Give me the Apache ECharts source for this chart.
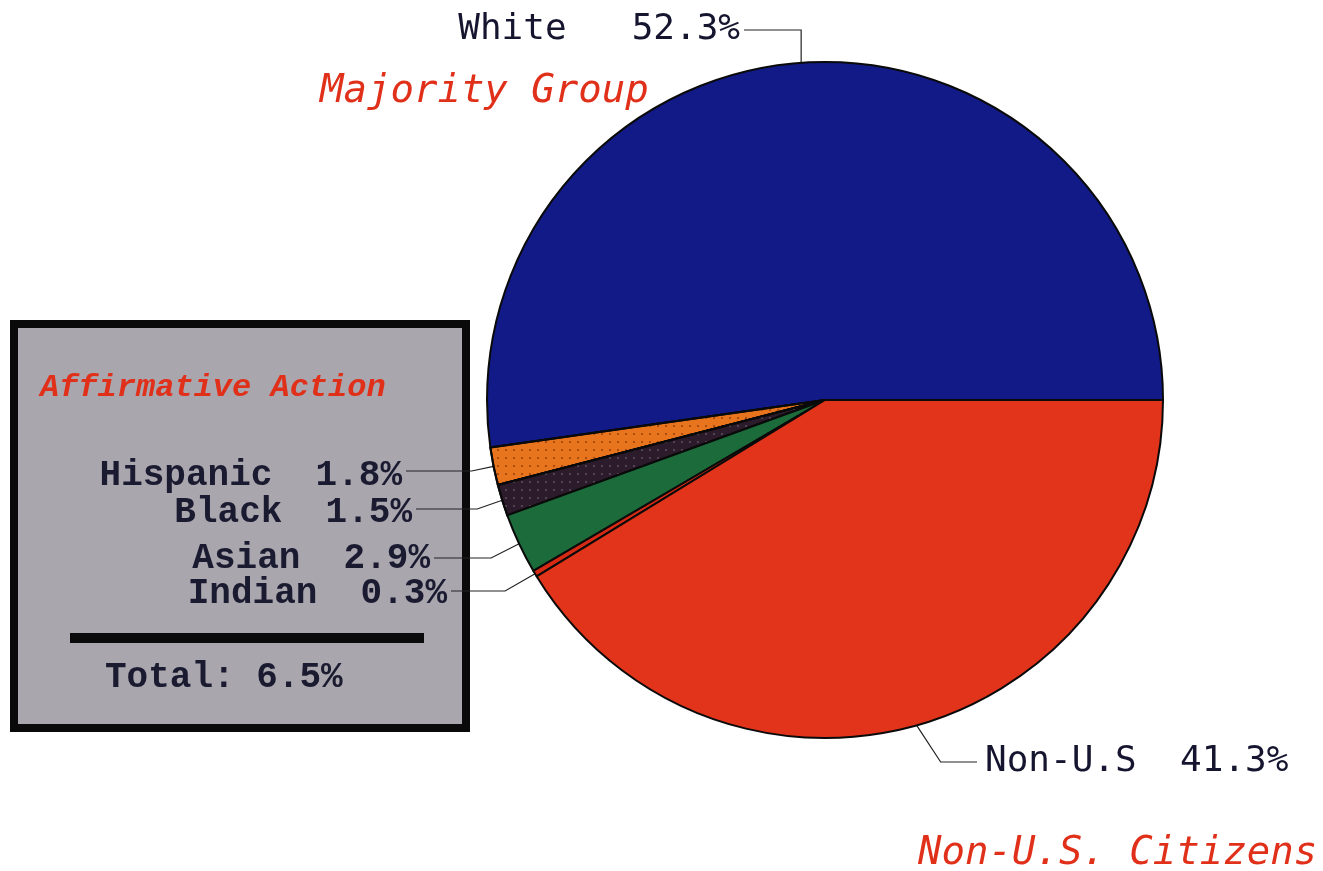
<!DOCTYPE html>
<html><head><meta charset="utf-8">
<script src="https://cdn.jsdelivr.net/npm/echarts@6/dist/echarts.min.js"></script>
<style>html,body{margin:0;padding:0;background:#fff}#c{width:1323px;height:871px}</style>
</head><body><div id="c"></div>
<script>
const categories = ['White', 'Hispanic', 'Black', 'Asian', 'Indian', 'Non-U.S'];
const values = [52.3, 1.8, 1.5, 2.9, 0.3, 41.3];
const labelTexts = ['White   52.3%', 'Hispanic  1.8%', 'Black  1.5%', 'Asian  2.9%', 'Indian  0.3%', 'Non-U.S  41.3%'];
const sliceColors = ['#111a86', '#e8741e', '#2b1b2b', '#1c6b3a', '#d62a14', '#e2341b'];
const totalText = 'Total: 6.5%';

// label placement (style, not data)
const labelPlace = [
  {x: 740, y: 30, align: 'right', lineY: 30, elbow: 'vertical'},
  {x: 402, y: 476, align: 'right', lineY: 471, elbow: -22},
  {x: 412, y: 513, align: 'right', lineY: 509, elbow: -25},
  {x: 430, y: 559, align: 'right', lineY: 558, elbow: -28},
  {x: 447, y: 594, align: 'right', lineY: 591, elbow: -30},
  {x: 985, y: 762, align: 'left', lineY: 762, elbow: 24}
];
const boxed = [false, true, true, true, true, false];

const chart = echarts.init(document.getElementById('c'), null, {renderer: 'canvas'});
const data = categories.map((n, i) => ({
  name: n, value: values[i],
  itemStyle: Object.assign({color: sliceColors[i]},
    i === 1 ? {decal: {symbol: 'circle', symbolSize: 0.5, dashArrayX: 4, dashArrayY: 4, color: 'rgba(90,30,0,0.6)'}} :
    i === 2 ? {decal: {symbol: 'circle', symbolSize: 0.4, dashArrayX: 4, dashArrayY: 4, color: 'rgba(200,180,200,0.6)'}} : {}),
  label: boxed[i] ? {fontFamily: 'Liberation Mono', fontWeight: 'bold', fontSize: 36, color: '#1a1a30'}
                  : {fontFamily: 'DejaVu Sans Mono', fontSize: 36, color: '#151530'}
}));

function layoutLabel(p) {
  const L = labelPlace[p.dataIndex];
  const out = {x: L.x, y: L.y, align: L.align, verticalAlign: 'middle'};
  const pts = p.labelLinePoints;
  if (pts && pts.length) {
    const a = pts[0];
    const end = L.align === 'right' ? L.x + 4 : L.x - 8;
    if (L.elbow === 'vertical') {
      out.labelLinePoints = [[a[0], a[1]], [a[0], L.lineY], [end, L.lineY]];
    } else {
      out.labelLinePoints = [[a[0], a[1]], [a[0] + L.elbow, L.lineY], [end, L.lineY]];
    }
  }
  return out;
}

chart.setOption({
  animation: false,
  backgroundColor: '#ffffff',
  graphic: [
    {type: 'rect', shape: {x: 14, y: 324, width: 452, height: 404},
     style: {fill: '#aaa6ae', stroke: '#0a0a0a', lineWidth: 8}, z: 0},
    {type: 'text', left: 40, top: 372,
     style: {text: 'Affirmative Action', font: 'italic bold 32px "Liberation Mono"', fill: '#e0301a'}, z: 1},
    {type: 'rect', shape: {x: 70, y: 633, width: 354, height: 10}, style: {fill: '#0a0a0a'}, z: 1},
    {type: 'text', left: 105, top: 660,
     style: {text: totalText, font: 'bold 36px "Liberation Mono"', fill: '#1a1a30'}, z: 1},
    {type: 'text', left: 320, top: 72,
     style: {text: 'Majority Group', font: 'oblique 39px "DejaVu Sans Mono"', fill: '#e0301a'}, z: 1},
    {type: 'text', left: 918, top: 834,
     style: {text: 'Non-U.S. Citizens', font: 'oblique 39px "DejaVu Sans Mono"', fill: '#e0301a'}, z: 1}
  ],
  series: [{
    type: 'pie',
    center: [825, 400],
    radius: 338,
    startAngle: 0,
    clockwise: false,
    avoidLabelOverlap: false,
    z: 2,
    data: data,
    itemStyle: {borderColor: '#0a0a0a', borderWidth: 2},
    label: {show: true, position: 'outside', formatter: p => labelTexts[p.dataIndex]},
    labelLine: {show: true, length: 10, length2: 20, lineStyle: {color: '#222', width: 1.2}},
    labelLayout: layoutLabel,
    emphasis: {disabled: true}
  }]
});
</script></body></html>
